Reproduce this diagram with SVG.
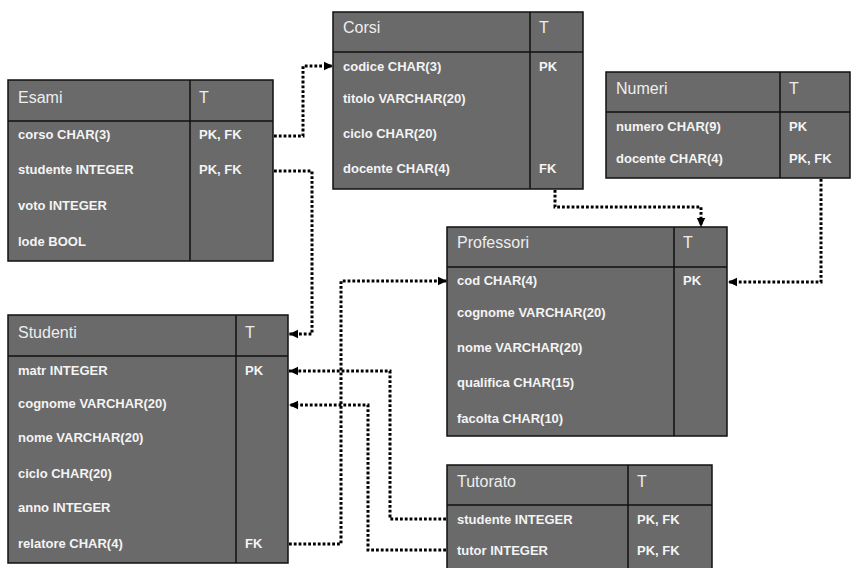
<svg xmlns="http://www.w3.org/2000/svg" width="851" height="568" viewBox="0 0 851 568">
<style>
.box{fill:#6a6a6a;stroke:#111;stroke-width:1.5}
.ln{stroke:#111;stroke-width:1.5;fill:none}
.h{font-family:"Liberation Sans",Arial,sans-serif;font-size:16px;fill:#eeeeee}
.r{font-family:"Liberation Sans",Arial,sans-serif;font-size:13px;font-weight:bold;fill:#f4f4f4}
.c{fill:none;stroke:#000;stroke-width:3;stroke-dasharray:2.8,2}
</style>
<defs>
<marker id="ah" markerUnits="userSpaceOnUse" markerWidth="10" markerHeight="10" viewBox="0 0 10 10" refX="9" refY="5" orient="auto">
<path d="M0,0.8 L9,5 L0,9.2 Z" fill="#000"/>
</marker>
</defs>
<rect width="851" height="568" fill="#fff"/>

<g id="connectors">
<path class="c" d="M274,136 H303 V66 H333" marker-end="url(#ah)"/>
<path class="c" d="M274,171 H312 V334 H289" marker-end="url(#ah)"/>
<path class="c" d="M555,190 V207 H701 V227" marker-end="url(#ah)"/>
<path class="c" d="M821,179 V282 H728" marker-end="url(#ah)"/>
<path class="c" d="M289,544 H341 V281 H447" marker-end="url(#ah)"/>
<path class="c" d="M446,519 H390 V371 H289" marker-end="url(#ah)"/>
<path class="c" d="M446,550 H368 V405 H289" marker-end="url(#ah)"/>
</g>

<g id="Esami">
<rect class="box" x="8" y="80" width="265" height="181"/>
<line class="ln" x1="8" y1="121" x2="273" y2="121"/>
<line class="ln" x1="190" y1="80" x2="190" y2="261"/>
<text class="h" x="18" y="103">Esami</text>
<text class="h" x="199" y="103">T</text>
<text class="r" x="18" y="139">corso CHAR(3)</text>
<text class="r" x="199" y="139">PK, FK</text>
<text class="r" x="18" y="174">studente INTEGER</text>
<text class="r" x="199" y="174">PK, FK</text>
<text class="r" x="18" y="210">voto INTEGER</text>
<text class="r" x="18" y="246">lode BOOL</text>
</g>

<g id="Corsi">
<rect class="box" x="333" y="12" width="250" height="177"/>
<line class="ln" x1="333" y1="52" x2="583" y2="52"/>
<line class="ln" x1="530" y1="12" x2="530" y2="189"/>
<text class="h" x="343" y="33">Corsi</text>
<text class="h" x="539" y="33">T</text>
<text class="r" x="343" y="71">codice CHAR(3)</text>
<text class="r" x="539" y="71">PK</text>
<text class="r" x="343" y="103">titolo VARCHAR(20)</text>
<text class="r" x="343" y="138">ciclo CHAR(20)</text>
<text class="r" x="343" y="173">docente CHAR(4)</text>
<text class="r" x="539" y="173">FK</text>
</g>

<g id="Numeri">
<rect class="box" x="606" y="72" width="244" height="106"/>
<line class="ln" x1="606" y1="112" x2="850" y2="112"/>
<line class="ln" x1="780" y1="72" x2="780" y2="178"/>
<text class="h" x="616" y="94">Numeri</text>
<text class="h" x="789" y="94">T</text>
<text class="r" x="616" y="131">numero CHAR(9)</text>
<text class="r" x="789" y="131">PK</text>
<text class="r" x="616" y="163">docente CHAR(4)</text>
<text class="r" x="789" y="163">PK, FK</text>
</g>

<g id="Professori">
<rect class="box" x="447" y="227" width="280" height="209"/>
<line class="ln" x1="447" y1="267" x2="727" y2="267"/>
<line class="ln" x1="674" y1="227" x2="674" y2="436"/>
<text class="h" x="457" y="248">Professori</text>
<text class="h" x="683" y="248">T</text>
<text class="r" x="457" y="285">cod CHAR(4)</text>
<text class="r" x="683" y="285">PK</text>
<text class="r" x="457" y="317">cognome VARCHAR(20)</text>
<text class="r" x="457" y="352">nome VARCHAR(20)</text>
<text class="r" x="457" y="387">qualifica CHAR(15)</text>
<text class="r" x="457" y="423">facolta CHAR(10)</text>
</g>

<g id="Studenti">
<rect class="box" x="8" y="315" width="280" height="248"/>
<line class="ln" x1="8" y1="356" x2="288" y2="356"/>
<line class="ln" x1="236" y1="315" x2="236" y2="563"/>
<text class="h" x="18" y="338">Studenti</text>
<text class="h" x="245" y="338">T</text>
<text class="r" x="18" y="375">matr INTEGER</text>
<text class="r" x="245" y="375">PK</text>
<text class="r" x="18" y="408">cognome VARCHAR(20)</text>
<text class="r" x="18" y="442">nome VARCHAR(20)</text>
<text class="r" x="18" y="478">ciclo CHAR(20)</text>
<text class="r" x="18" y="512">anno INTEGER</text>
<text class="r" x="18" y="548">relatore CHAR(4)</text>
<text class="r" x="245" y="548">FK</text>
</g>

<g id="Tutorato">
<rect class="box" x="447" y="465" width="265" height="120"/>
<line class="ln" x1="447" y1="505" x2="712" y2="505"/>
<line class="ln" x1="628" y1="465" x2="628" y2="585"/>
<text class="h" x="457" y="487">Tutorato</text>
<text class="h" x="637" y="487">T</text>
<text class="r" x="457" y="524">studente INTEGER</text>
<text class="r" x="637" y="524">PK, FK</text>
<text class="r" x="457" y="555">tutor INTEGER</text>
<text class="r" x="637" y="555">PK, FK</text>
</g>
</svg>
